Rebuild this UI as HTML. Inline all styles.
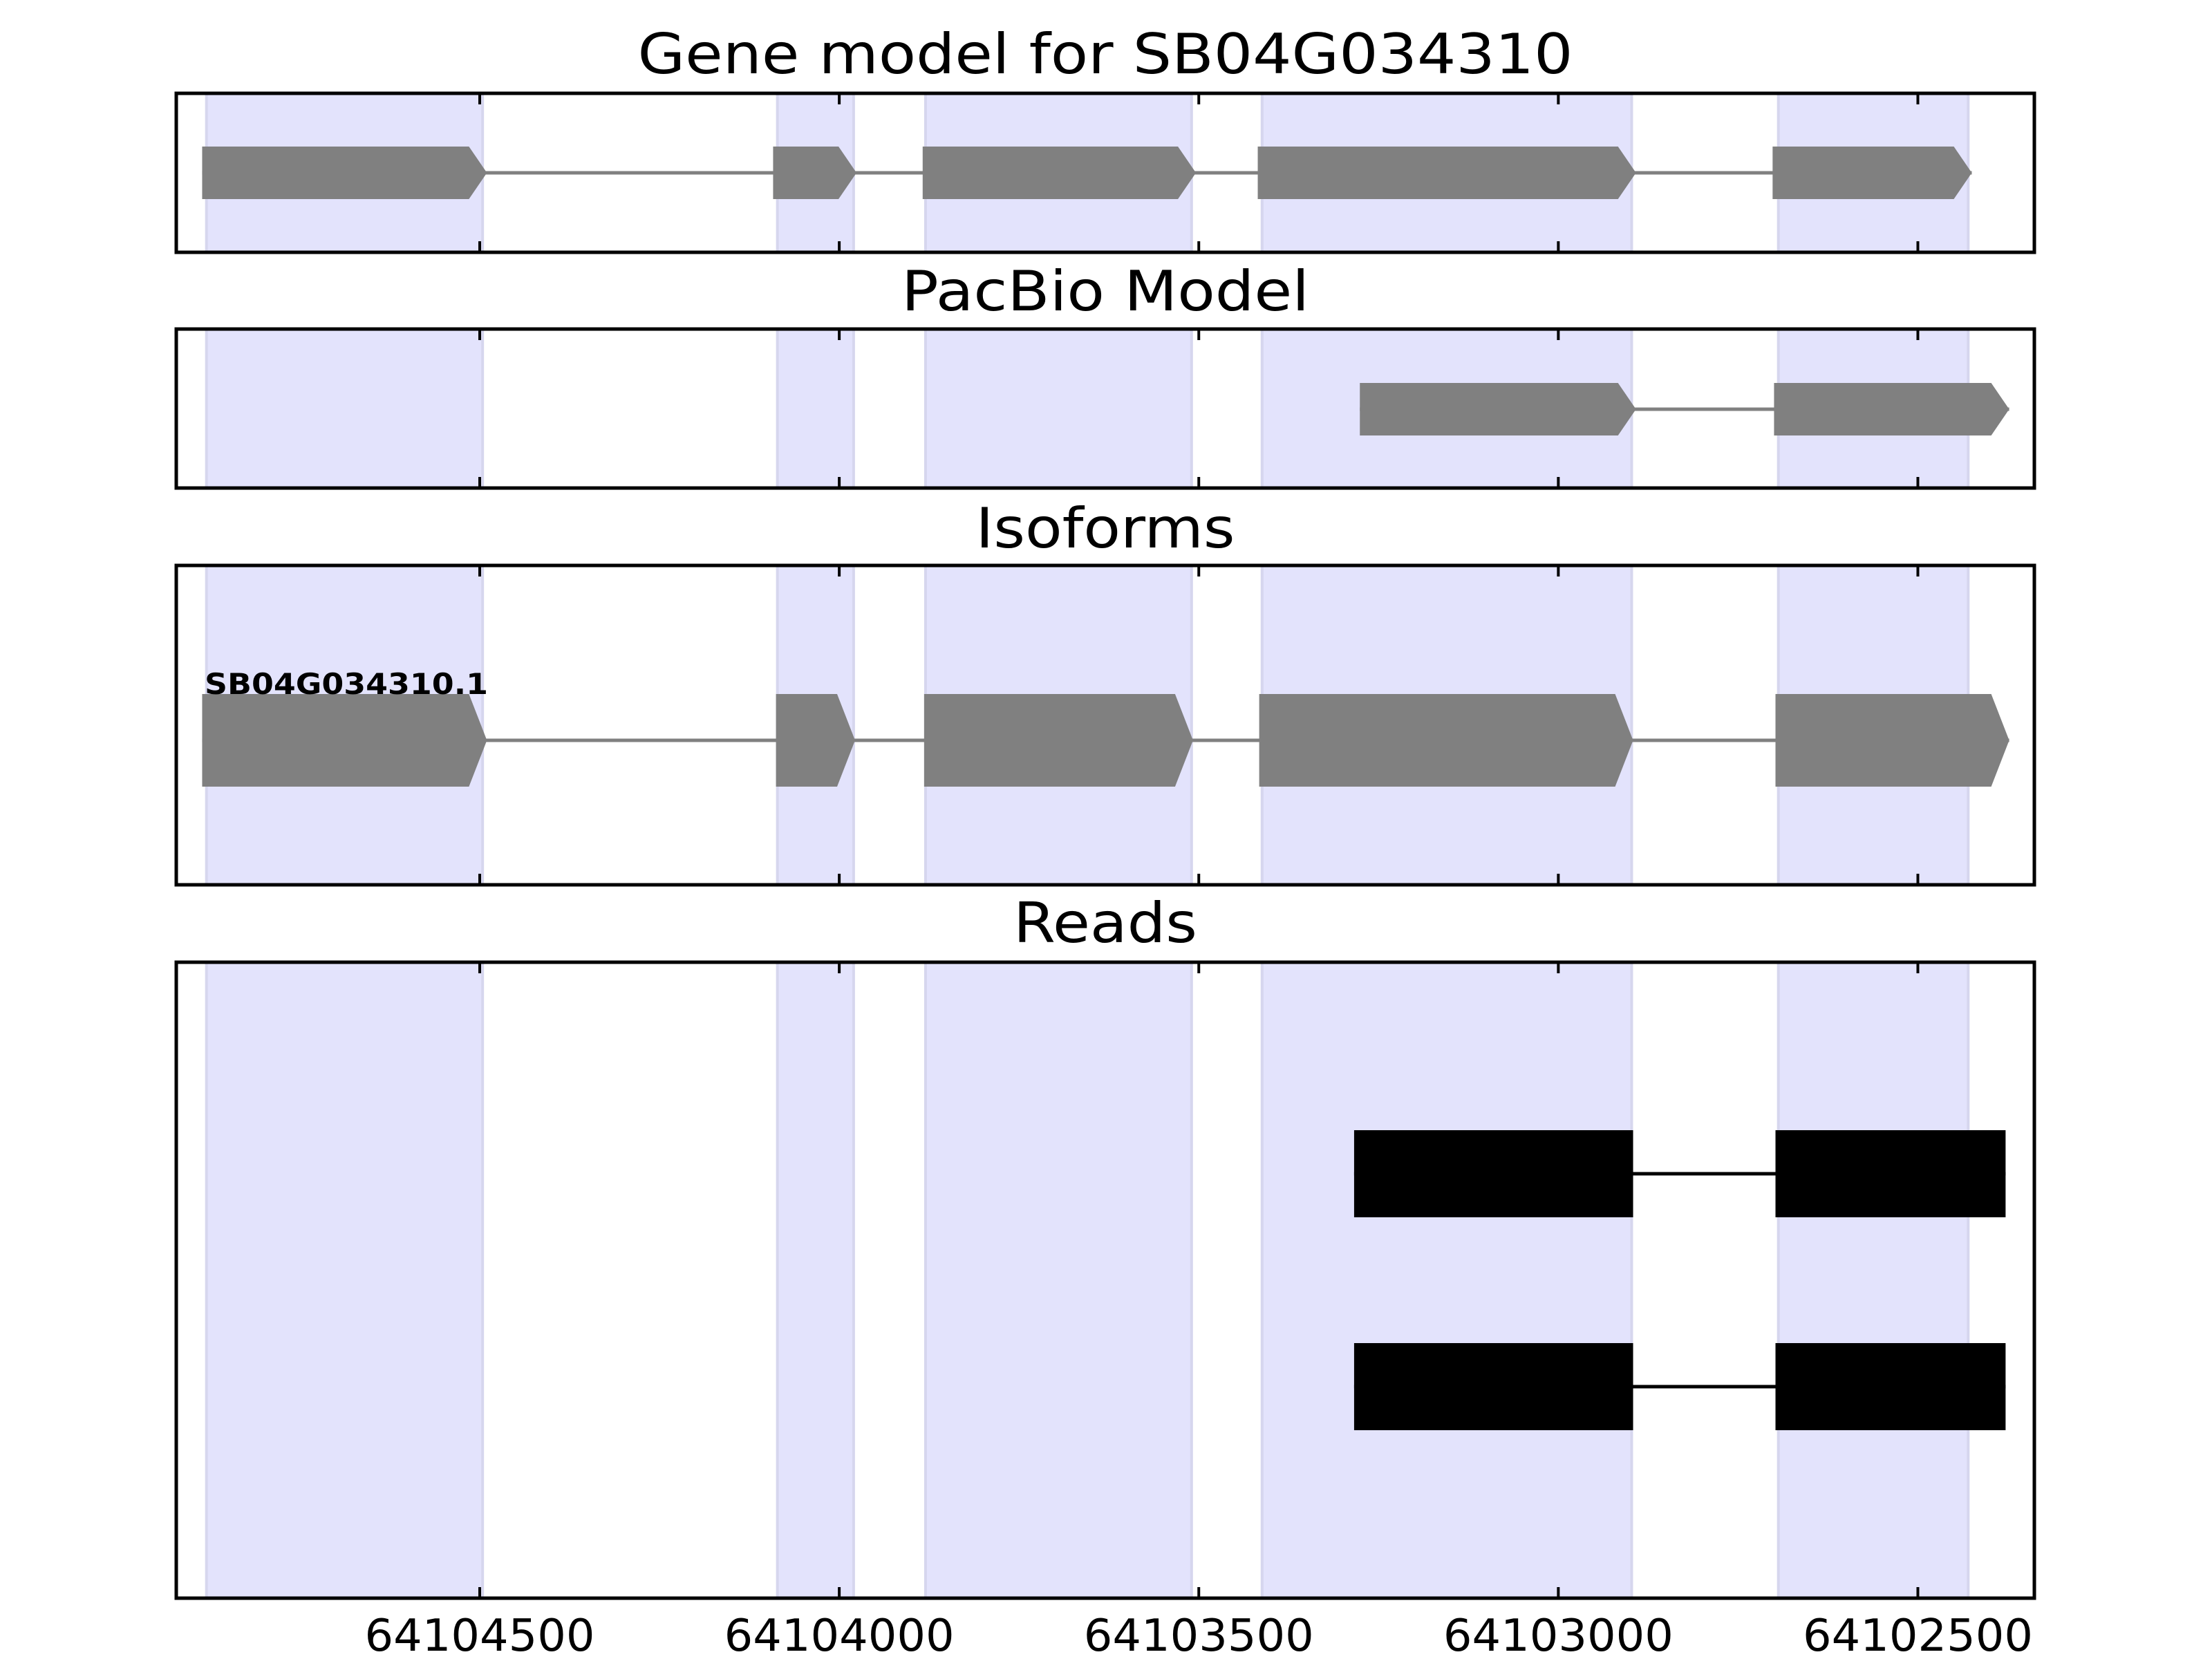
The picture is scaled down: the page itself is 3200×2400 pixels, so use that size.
<!DOCTYPE html>
<html><head><meta charset="utf-8"><style>body{margin:0;background:#fff}svg{display:block}</style></head>
<body>
<svg id="chart" xmlns="http://www.w3.org/2000/svg" width="3200" height="2400" viewBox="0 0 3200 2400" font-family="'DejaVu Sans','Liberation Sans',sans-serif"></svg>
<script>
const shadedExons = [[64104880,64104496],[64104086,64103980],[64103880,64103510],[64103412,64102898],[64102694,64102430]];
const geneModelExons = [[64104886,64104490],[64104092,64103976],[64103884,64103504],[64103418,64102892],[64102702,64102425]];
const pacbioExons = [[64103276,64102892],[64102700,64102373]];
const isoformExons = [[64104886,64104490],[64104088,64103978],[64103882,64103508],[64103416,64102896],[64102698,64102373]];
const readExons = [[64103284,64102896],[64102698,64102378]];
const readRows = [0,1];
const tickValues = [64104500,64104000,64103500,64103000,64102500];
const tickLabels = ["64104500","64104000","64103500","64103000","64102500"];
const panelTitles = ["Gene model for SB04G034310","PacBio Model","Isoforms","Reads"];

const NS="http://www.w3.org/2000/svg", svg=document.getElementById('chart');
const X0=255,X1=2943,V0=64104922,V1=64102338;
const x=v=>X0+(V0-v)/(V0-V1)*(X1-X0);
function mk(tag,a,parent){const e=document.createElementNS(NS,tag);for(const k in a)e.setAttribute(k,a[k]);(parent||svg).appendChild(e);return e;}
const panels=[{y0:135,y1:365,tb:106},{y0:476,y1:706,tb:449},{y0:818,y1:1280,tb:792},{y0:1392,y1:2312,tb:1363}];
const titleW=[1353,590,375,266];
panels.forEach((p,i)=>{
  const g=mk('g',{});
  
  
  shadedExons.forEach(s=>{
    const r=mk('rect',{x:x(s[0]),y:p.y0,width:x(s[1])-x(s[0]),height:p.y1-p.y0,fill:'#e3e3fc',stroke:'#d6d6ee','stroke-width':4},g);
    
    
  });
  const t=mk('text',{x:(X0+X1)/2,y:p.tb,'font-size':80,'text-anchor':'middle',textLength:titleW[i],lengthAdjust:'spacingAndGlyphs'},g);
  t.textContent=panelTitles[i];
  
  
  p.g=g;
});
function arrowModel(exons,cy,h,g,name){
  const l=mk('line',{x1:x(exons[0][0]),x2:x(exons[exons.length-1][1]),y1:cy,y2:cy,stroke:'#808080','stroke-width':5},g);
  
  
  exons.forEach(e=>{
    const a=x(e[0]),b=x(e[1]),hd=Math.min(26,(b-a)*0.4);
    const pg=mk('polygon',{points:`${a},${cy-h/2} ${b-hd},${cy-h/2} ${b},${cy} ${b-hd},${cy+h/2} ${a},${cy+h/2}`,fill:'#808080'},g);
    
    
  });
}
arrowModel(geneModelExons,250,76,panels[0].g,'gene-model');
arrowModel(pacbioExons,592,76,panels[1].g,'pacbio');
arrowModel(isoformExons,1071,134,panels[2].g,'isoform');
const lab=mk('text',{x:296,y:1004,'font-size':42,'font-weight':'bold',textLength:410,lengthAdjust:'spacingAndGlyphs'},panels[2].g);
lab.textContent='SB04G034310.1';


const rowY=[1698,2006];
readRows.forEach(r=>{
  const cy=rowY[r],g=panels[3].g;
  const l=mk('line',{x1:x(readExons[0][0]),x2:x(readExons[readExons.length-1][1]),y1:cy,y2:cy,stroke:'#000','stroke-width':5},g);
  
  
  readExons.forEach(e=>{
    const rc=mk('rect',{x:x(e[0]),y:cy-63,width:x(e[1])-x(e[0]),height:126,fill:'#000'},g);
    
    
  });
});
panels.forEach(p=>{
  tickValues.forEach(v=>{
    const t1=mk('line',{x1:x(v),x2:x(v),y1:p.y0,y2:p.y0+16,stroke:'#000','stroke-width':4},p.g);
    
    
    const t2=mk('line',{x1:x(v),x2:x(v),y1:p.y1-16,y2:p.y1,stroke:'#000','stroke-width':4},p.g);
    
    
  });
  const fr=mk('rect',{x:X0,y:p.y0,width:X1-X0,height:p.y1-p.y0,fill:'none',stroke:'#000','stroke-width':5},p.g);
  
  
});
tickValues.forEach((v,i)=>{
  const t=mk('text',{x:x(v),y:2388,'font-size':64,'text-anchor':'middle',textLength:333,lengthAdjust:'spacingAndGlyphs'});
  t.textContent=tickLabels[i];
  
  
});
</script>
</body></html>
